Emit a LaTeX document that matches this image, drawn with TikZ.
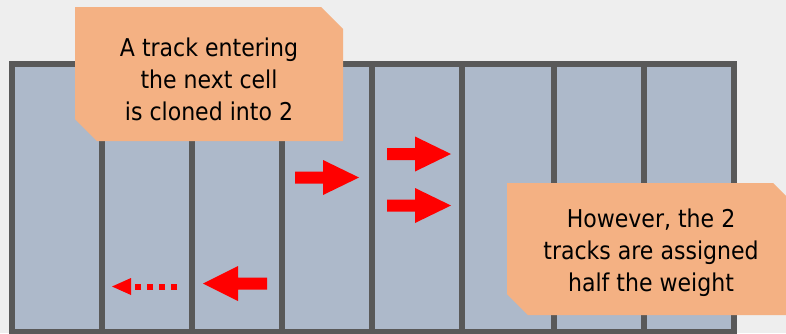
\documentclass[tikz,border=0pt]{standalone}
\usepackage{fontspec}
\newfontfamily\calloutfont{DejaVu Sans Condensed}
\definecolor{bgcol}{RGB}{238,238,238}
\definecolor{cellfill}{RGB}{173,185,202}
\definecolor{gridline}{RGB}{89,89,89}
\definecolor{notefill}{RGB}{244,177,131}
\definecolor{arrowred}{RGB}{255,0,0}
\begin{document}
\begin{tikzpicture}[x=1pt,y=-1pt,
  gridframe/.style={draw=gridline,line width=6pt,fill=cellfill},
  divider/.style={draw=gridline,line width=6pt},
  notebox/.style={fill=notefill},
  notetext/.style={font=\calloutfont\fontsize{24.5}{32}\selectfont,align=center,text=black,inner sep=0pt},
  blockarrow/.style={fill=arrowred},
  dottedshaft/.style={draw=arrowred,line width=6pt,dash pattern=on 6.5pt off 5.5pt}]
\useasboundingbox (0,0) rectangle (786,333);
\fill[bgcol] (0,0) rectangle (786,333);
% cells
\path[gridframe] (12,64) rectangle (734,332);
\foreach \xx in {102,192,282,372,462,554,644}
  \draw[divider] (\xx,64) -- (\xx,332);
% first note
\fill[notebox] (75,7) -- (321,7) -- (343,29) -- (343,141) -- (97,141) -- (75,119) -- cycle;
\node[notetext] (noteA) at (209,79) {A track entering\\the next cell\\is cloned into 2};
% second note
\fill[notebox] (507,183) -- (773,183) -- (786,196) -- (786,315) -- (528,315) -- (507,294) -- cycle;
\node[notetext] (noteB) at (651,253) {However, the 2\\tracks are assigned\\half the weight};
% block arrows
\fill[blockarrow] (295,171.5) -- (323,171.5) -- (323,160) -- (359,177.5) -- (323,195) -- (323,183.5) -- (295,183.5) -- cycle;
\fill[blockarrow] (387,148) -- (415,148) -- (415,136.5) -- (451,154) -- (415,171.5) -- (415,160) -- (387,160) -- cycle;
\fill[blockarrow] (387,199.5) -- (415,199.5) -- (415,188) -- (451,205.5) -- (415,223) -- (415,211.5) -- (387,211.5) -- cycle;
\fill[blockarrow] (267,277.5) -- (238,277.5) -- (238,266) -- (203,283.5) -- (238,301) -- (238,289.5) -- (267,289.5) -- cycle;
% dotted arrow
\coordinate (dsA) at (177,286.5);
\coordinate (dsB) at (131,286.5);
\draw[dottedshaft] (dsA) -- (dsB);
\fill[blockarrow] (131,278) -- (112,286.5) -- (131,295) -- cycle;
\end{tikzpicture}
\end{document}
